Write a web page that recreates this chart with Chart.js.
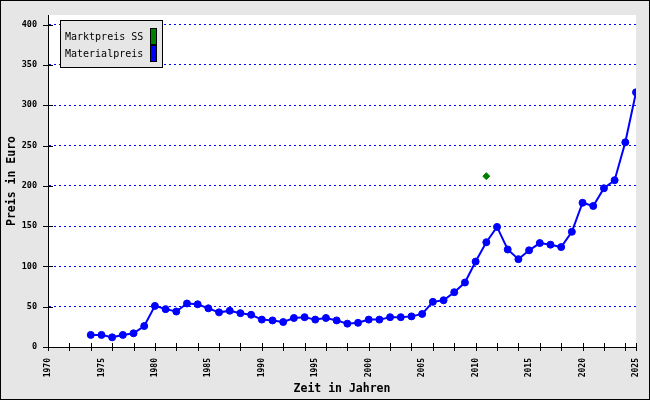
<!DOCTYPE html>
<html>
<head>
<meta charset="utf-8">
<script src="https://cdn.jsdelivr.net/npm/chart.js@4"></script>
<style>
  html, body { margin: 0; padding: 0; background: #e6e6e6; }
  canvas { display: block; }
</style>
</head>
<body>
<canvas id="preisChart" width="650" height="400"></canvas>
<script>
// Jahre und Werte
const years = [1974, 1975, 1976, 1977, 1978, 1979, 1980, 1981, 1982, 1983, 1984, 1985,
  1986, 1987, 1988, 1989, 1990, 1991, 1992, 1993, 1994, 1995, 1996, 1997, 1998, 1999,
  2000, 2001, 2002, 2003, 2004, 2005, 2006, 2007, 2008, 2009, 2010, 2011, 2012, 2013,
  2014, 2015, 2016, 2017, 2018, 2019, 2020, 2021, 2022, 2023, 2024, 2025];
const materialValues = [15, 15, 12, 15, 17, 26, 51, 47, 44, 54, 53, 48,
  43, 45, 42, 40, 34, 33, 31, 36, 37, 34, 36, 33, 29, 30,
  34, 34, 37, 37, 38, 41, 56, 58, 68, 80, 106, 130, 149, 121,
  109, 120, 129, 127, 124, 143, 179, 175, 197, 207, 254, 316];
const marketYears = [2011];
const marketValues = [212];
const yTicks = [0, 50, 100, 150, 200, 250, 300, 350, 400];

const mono = 'DejaVu Sans Mono';

// Hintergrund, Tickstriche, Legende, Rahmen
const framePlugin = {
  id: 'frame',
  beforeDraw(chart) {
    const ctx = chart.ctx, a = chart.chartArea;
    ctx.save();
    ctx.fillStyle = '#e6e6e6';
    ctx.fillRect(0, 0, chart.width, chart.height);
    ctx.fillStyle = '#ffffff';
    ctx.fillRect(a.left, a.top, a.right - a.left, a.bottom - a.top);
    ctx.restore();
  },
  afterDraw(chart) {
    const ctx = chart.ctx, a = chart.chartArea;
    const xs = chart.scales.x, ys = chart.scales.y;
    ctx.save();
    ctx.strokeStyle = '#000';
    ctx.lineWidth = 1;
    ctx.beginPath();
    for (let yr = 1970; yr <= 2025; yr += 2) {
      const px = Math.round(xs.getPixelForValue(yr)) + 0.5;
      ctx.moveTo(px, a.bottom - 4);
      ctx.lineTo(px, a.bottom + 4);
    }
    const pEnd = Math.round(xs.getPixelForValue(2025)) + 0.5;
    ctx.moveTo(pEnd, a.bottom - 4);
    ctx.lineTo(pEnd, a.bottom + 4);
    yTicks.forEach(v => {
      const py = Math.round(ys.getPixelForValue(v)) + 0.5;
      ctx.moveTo(a.left - 5, py);
      ctx.lineTo(a.left + 5, py);
    });
    ctx.stroke();

    // Legende
    const lx = 60.5, ly = 20.5, lw = 102, lh = 47;
    ctx.fillStyle = '#e6e6e6';
    ctx.fillRect(lx, ly, lw, lh);
    ctx.strokeRect(lx, ly, lw, lh);
    ctx.font = '10px "' + mono + '"';
    ctx.textBaseline = 'middle';
    ctx.textAlign = 'left';
    chart.data.datasets.forEach((ds, i) => {
      const cy = 37 + i * 17;
      ctx.fillStyle = '#000';
      ctx.fillText(ds.label, 65, cy);
      ctx.fillStyle = ds.legendColor;
      ctx.fillRect(150, cy - 8, 6, 15);
      ctx.strokeRect(150.5, cy - 8.5, 6, 16);
    });

    ctx.strokeRect(0.5, 0.5, chart.width - 1, chart.height - 1);
    ctx.restore();
  }
};

new Chart(document.getElementById('preisChart'), {
  type: 'line',
  data: {
    datasets: [{
      label: 'Marktpreis SS',
      data: marketYears.map((yr, i) => ({ x: yr, y: marketValues[i] })),
      showLine: false,
      pointStyle: 'rectRot',
      pointRadius: 3.5,
      backgroundColor: '#008000',
      borderColor: '#008000',
      legendColor: '#008000'
    }, {
      label: 'Materialpreis',
      data: years.map((yr, i) => ({ x: yr, y: materialValues[i] })),
      borderColor: '#0000ff',
      backgroundColor: '#0000ff',
      borderWidth: 2,
      pointRadius: 3.5,
      pointBorderWidth: 1,
      tension: 0,
      legendColor: '#0000ff'
    }]
  },
  options: {
    responsive: false,
    animation: false,
    devicePixelRatio: 1,
    layout: { padding: { left: 0, top: 15, right: 14, bottom: 0 } },
    plugins: {
      legend: { display: false },
      tooltip: { enabled: false }
    },
    scales: {
      x: {
        type: 'linear',
        min: 1970,
        max: 2025,
        afterFit: s => { s.height = 53; s.paddingLeft = 0; s.paddingRight = 0; },
        grid: { display: false, drawTicks: false },
        border: { display: true, color: '#000', width: 1 },
        ticks: {
          stepSize: 5,
          autoSkip: false,
          minRotation: 90,
          maxRotation: 90,
          padding: 11,
          color: '#000',
          font: { family: mono, size: 8, weight: 'bold' },
          callback: v => String(v)
        },
        title: {
          display: true,
          text: 'Zeit in Jahren',
          color: '#000',
          font: { family: mono, size: 11.5, weight: 'bold' },
          padding: { top: 0, bottom: 4 }
        }
      },
      y: {
        min: 0,
        max: 412,
        afterFit: s => { s.width = 48; s.paddingTop = 0; s.paddingBottom = 0; },
        afterBuildTicks: s => { s.ticks = yTicks.map(v => ({ value: v })); },
        grid: {
          drawTicks: false,
          color: ctx => ctx.tick && ctx.tick.value === 0 ? 'rgba(0,0,0,0)' : '#0000ff',
          lineWidth: 1
        },
        border: { display: true, color: '#000', width: 1, dash: [2, 3], dashOffset: 0 },
        ticks: {
          padding: 11,
          color: '#000',
          font: { family: mono, size: 8.5, weight: 'bold' }
        },
        title: {
          display: true,
          text: 'Preis in Euro',
          color: '#000',
          font: { family: mono, size: 11.5, weight: 'bold' },
          padding: { top: 5, bottom: 0 }
        }
      }
    }
  },
  plugins: [framePlugin]
});
</script>
</body>
</html>
